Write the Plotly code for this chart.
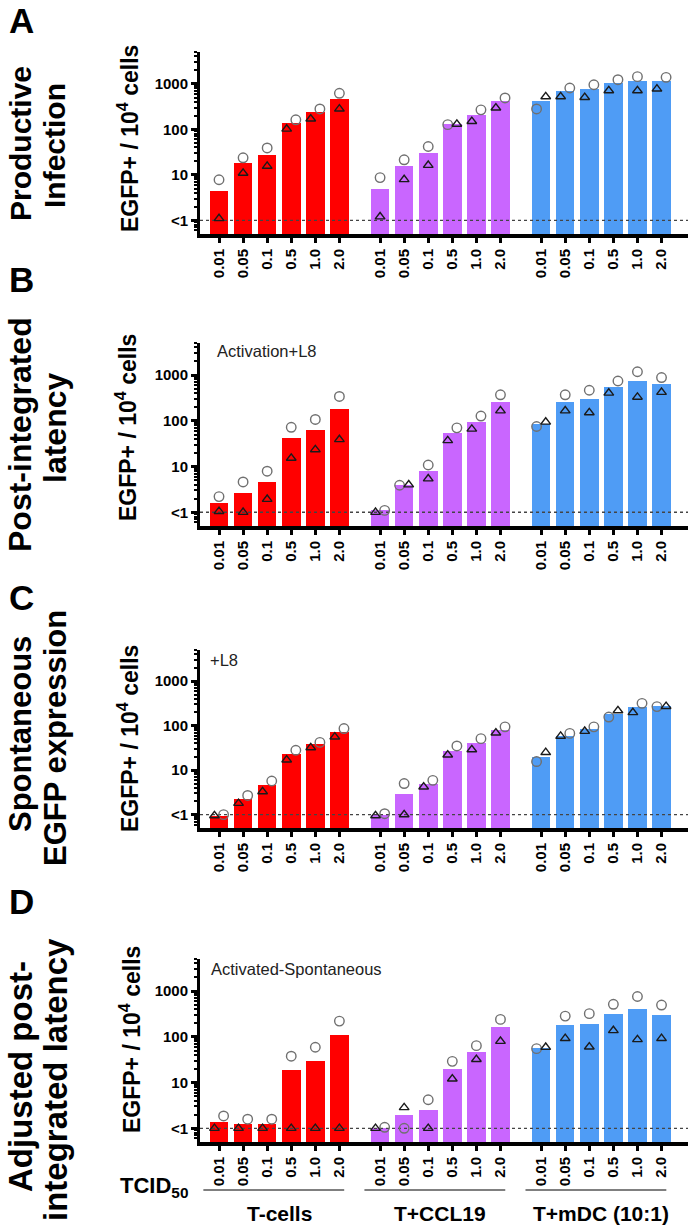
import math
import plotly.graph_objects as go
from plotly.subplots import make_subplots

doses = ["0.01", "0.05", "0.1", "0.5", "1.0", "2.0"]
groups = ["T-cells", "T+CCL19", "T+mDC (10:1)"]
group_colors = ["#ff0000", "#c966ff", "#4f9cf5"]
panel_letters = ["A", "B", "C", "D"]
panel_titles = [["Productive", "Infection"],
                ["Post-integrated", "latency"],
                ["Spontaneous", "EGFP expression"],
                ["Adjusted post-", "integrated latency"]]
panel_notes = ["", "Activation+L8", "+L8", "Activated-Spontaneous"]
ytick_vals = [1, 10, 100, 1000]
ytick_text = ["<1", "10", "100", "1000"]

# bar = mean, circle / triangle = the two donors; one list per group (T, T+CCL19, T+mDC)
A_bar = [[4.5, 18, 28, 135, 237, 466],
         [5.0, 15.3, 30, 132, 210, 427],
         [427, 690, 773, 1025, 1175, 1175]]
A_circle = [[7.8, 23.7, 39, 162, 281, 620],
            [8.7, 21.4, 42, 127, 268, 490],
            [281, 810, 955, 1233, 1440, 1390]]
A_triangle = [[1.1, 10.9, 15.5, 102, 170, 281],
              [1.2, 7.9, 16.3, 130, 150, 297],
              [525, 525, 505, 710, 710, 773]]

B_bar = [[1.57, 2.6, 4.6, 43, 63, 180],
         [1.1, 4.0, 7.9, 53, 94, 263],
         [83, 263, 296, 550, 740, 625]]
B_circle = [[2.2, 4.6, 7.9, 72, 107, 340],
            [1.1, 3.9, 10.8, 70, 127, 370],
            [75, 370, 465, 740, 1180, 880]]
B_triangle = [[1.05, 1.0, 1.93, 15.3, 23.5, 39],
              [1.0, 4.0, 5.4, 37, 66, 166],
              [94, 166, 151, 405, 330, 420]]

C_bar = [[0.92, 2.3, 4.6, 23, 38, 71],
         [1.0, 2.9, 5.0, 27, 40, 79],
         [19.5, 60, 85, 185, 260, 270]]
C_circle = [[1.0, 2.7, 5.7, 28, 42, 86],
            [1.05, 5.0, 5.9, 35, 51, 94],
            [15.6, 67, 94, 156, 317, 268]]
C_triangle = [[0.95, 1.8, 3.3, 17, 32, 56],
              [0.95, 1.0, 4.2, 22, 29, 69],
              [25, 58, 75, 218, 198, 272]]

D_bar = [[1.4, 1.24, 1.24, 19, 29, 112],
         [1.0, 1.96, 2.5, 19.8, 47, 162],
         [57, 180, 193, 320, 415, 295]]
D_circle = [[1.86, 1.58, 1.58, 37.6, 59, 220],
            [1.05, 1.0, 4.2, 29, 64, 240],
            [55, 283, 320, 513, 760, 494]]
D_triangle = [[1.0, 1.0, 1.0, 1.0, 1.0, 1.0],
              [1.0, 2.84, 1.0, 12, 32, 80],
              [59, 92, 60, 137, 87, 92]]

bars = [A_bar, B_bar, C_bar, D_bar]
circles = [A_circle, B_circle, C_circle, D_circle]
triangles = [A_triangle, B_triangle, C_triangle, D_triangle]

# ---- layout geometry (pixels) ----
W, H = 692, 1225
ML, MR, MT, MB = 200, 4, 52, 83
PW, PH = W - ML - MR, H - MT - MB
panel_top = [52, 343, 650, 959]
panel_bot = [234, 526, 828, 1142]
GROUP_STEP = 6.69
BAR_W = 0.77
SPREAD = 0.19
XR = [-0.79, 19.48]
FONT = "Liberation Sans, Arial, sans-serif"


def px(x):
    return (x - ML) / PW


def py(y):
    return (H - MB - y) / PH


def pos(g, i):
    return g * GROUP_STEP + i


fig = make_subplots(rows=4, cols=1)

for p in range(4):
    row = p + 1
    for g in range(3):
        xs = [pos(g, i) for i in range(len(doses))]
        fig.add_trace(go.Bar(x=xs, y=bars[p][g], width=BAR_W,
                             marker=dict(color=group_colors[g], line=dict(width=0)),
                             showlegend=False), row=row, col=1)
    # detection limit
    fig.add_trace(go.Scatter(x=XR, y=[1, 1], mode="lines",
                             line=dict(color="#444", width=1.3, dash="dot"),
                             showlegend=False, hoverinfo="skip"), row=row, col=1)
    for g in range(3):
        cx, tx = [], []
        for i in range(len(doses)):
            c, t = circles[p][g][i], triangles[p][g][i]
            x0 = pos(g, i)
            # spread the two donors sideways when they would overlap
            if abs(math.log10(c) - math.log10(t)) < 0.3:
                if c <= t:
                    cx.append(x0 - SPREAD); tx.append(x0 + SPREAD)
                else:
                    cx.append(x0 + SPREAD); tx.append(x0 - SPREAD)
            else:
                cx.append(x0); tx.append(x0)
        fig.add_trace(go.Scatter(x=cx, y=circles[p][g], mode="markers", cliponaxis=False,
                                 marker=dict(symbol="circle-open", size=9.5, color="#707070",
                                             line=dict(width=1.4)),
                                 showlegend=False), row=row, col=1)
        fig.add_trace(go.Scatter(x=tx, y=triangles[p][g], mode="markers", cliponaxis=False,
                                 marker=dict(symbol="triangle-up-open", size=8.5, color="#1a1a1a",
                                             line=dict(width=1.4)),
                                 showlegend=False), row=row, col=1)

minor_vals = [m * 10 ** k for k in range(-1, 4) for m in range(2, 10)]
tickpos = [pos(g, i) for g in range(3) for i in range(len(doses))]

for p in range(4):
    row = p + 1
    fig.update_yaxes(type="log", range=[-0.3, 3.7], tickvals=ytick_vals, ticktext=ytick_text,
                     ticks="outside", ticklen=6, tickwidth=2.5, tickcolor="black",
                     showline=True, linewidth=3, linecolor="black",
                     showgrid=False, zeroline=False, automargin=False,
                     tickfont=dict(family=FONT, size=15, color="black", weight="bold"),
                     minor=dict(tickvals=minor_vals, ticks="outside", ticklen=3,
                                tickwidth=1.5, tickcolor="black", showgrid=False),
                     domain=[py(panel_bot[p]), py(panel_top[p])], row=row, col=1)
    fig.update_xaxes(range=XR, tickvals=tickpos, ticktext=doses * 3,
                     tickangle=-90, ticks="outside", ticklen=5, tickwidth=2.5,
                     tickcolor="black", showline=True, linewidth=4, linecolor="black",
                     showgrid=False, zeroline=False, automargin=False,
                     tickfont=dict(family=FONT, size=15, color="black", weight="bold"),
                     row=row, col=1)

ann = []
letter_y = [20, 279, 597, 901]
title_y = [[144, 146], [435, 428], [734, 738], [1077, 1080]]
title_size = [30, 32, 31, 33]
ytitle_pos = [(128, 139), (126, 428), (128, 739), (130, 1040)]
note_pos = [None, (215, 351), (208, 660), (209, 969)]
for p in range(4):
    ann.append(dict(text="<b>" + panel_letters[p] + "</b>", x=px(21), y=py(letter_y[p]),
                    xref="paper", yref="paper", xanchor="center", yanchor="middle",
                    showarrow=False, font=dict(family=FONT, size=35, color="black")))
    for k, xc in enumerate([20, 55]):
        ann.append(dict(text="<b>" + panel_titles[p][k] + "</b>", x=px(xc), y=py(title_y[p][k]),
                        xref="paper", yref="paper", xanchor="center", yanchor="middle",
                        showarrow=False, textangle=-90,
                        font=dict(family=FONT, size=title_size[p], color="black")))
    ann.append(dict(text="<b>EGFP+ / 10<sup>4</sup> cells</b>", x=px(ytitle_pos[p][0]),
                    y=py(ytitle_pos[p][1]), xref="paper", yref="paper",
                    xanchor="center", yanchor="middle", showarrow=False,
                    textangle=-90, font=dict(family=FONT, size=23, color="black")))
    if note_pos[p]:
        ann.append(dict(text=panel_notes[p], x=px(note_pos[p][0]), y=py(note_pos[p][1]),
                        xref="paper", yref="paper", xanchor="left", yanchor="middle",
                        showarrow=False, font=dict(family=FONT, size=16.5, color="#222")))

ann.append(dict(text="<b>TCID<sub>50</sub></b>", x=px(190), y=py(1187), xref="paper",
                yref="paper", xanchor="right", yanchor="middle", showarrow=False,
                font=dict(family=FONT, size=22, color="black")))
shapes = []
for g in range(3):
    ann.append(dict(text="<b>" + groups[g] + "</b>", x=pos(g, 2.5), y=py(1213),
                    xref="x4", yref="paper", xanchor="center", yanchor="middle",
                    showarrow=False, font=dict(family=FONT, size=21, color="black")))
    shapes.append(dict(type="line", xref="x4", yref="paper", x0=pos(g, -0.65), x1=pos(g, 5.2),
                       y0=py(1190), y1=py(1190), line=dict(color="black", width=1)))

fig.update_layout(width=W, height=H, margin=dict(l=ML, r=MR, t=MT, b=MB, autoexpand=False),
                  plot_bgcolor="white", paper_bgcolor="white", bargap=0,
                  annotations=ann, shapes=shapes, showlegend=False,
                  font=dict(family=FONT, color="black"))

# drop the page's default body margin so the figure sits at the window origin
fig.write_html("out.html", config={"displayModeBar": False},
               post_script="document.body.style.margin='0px';")
